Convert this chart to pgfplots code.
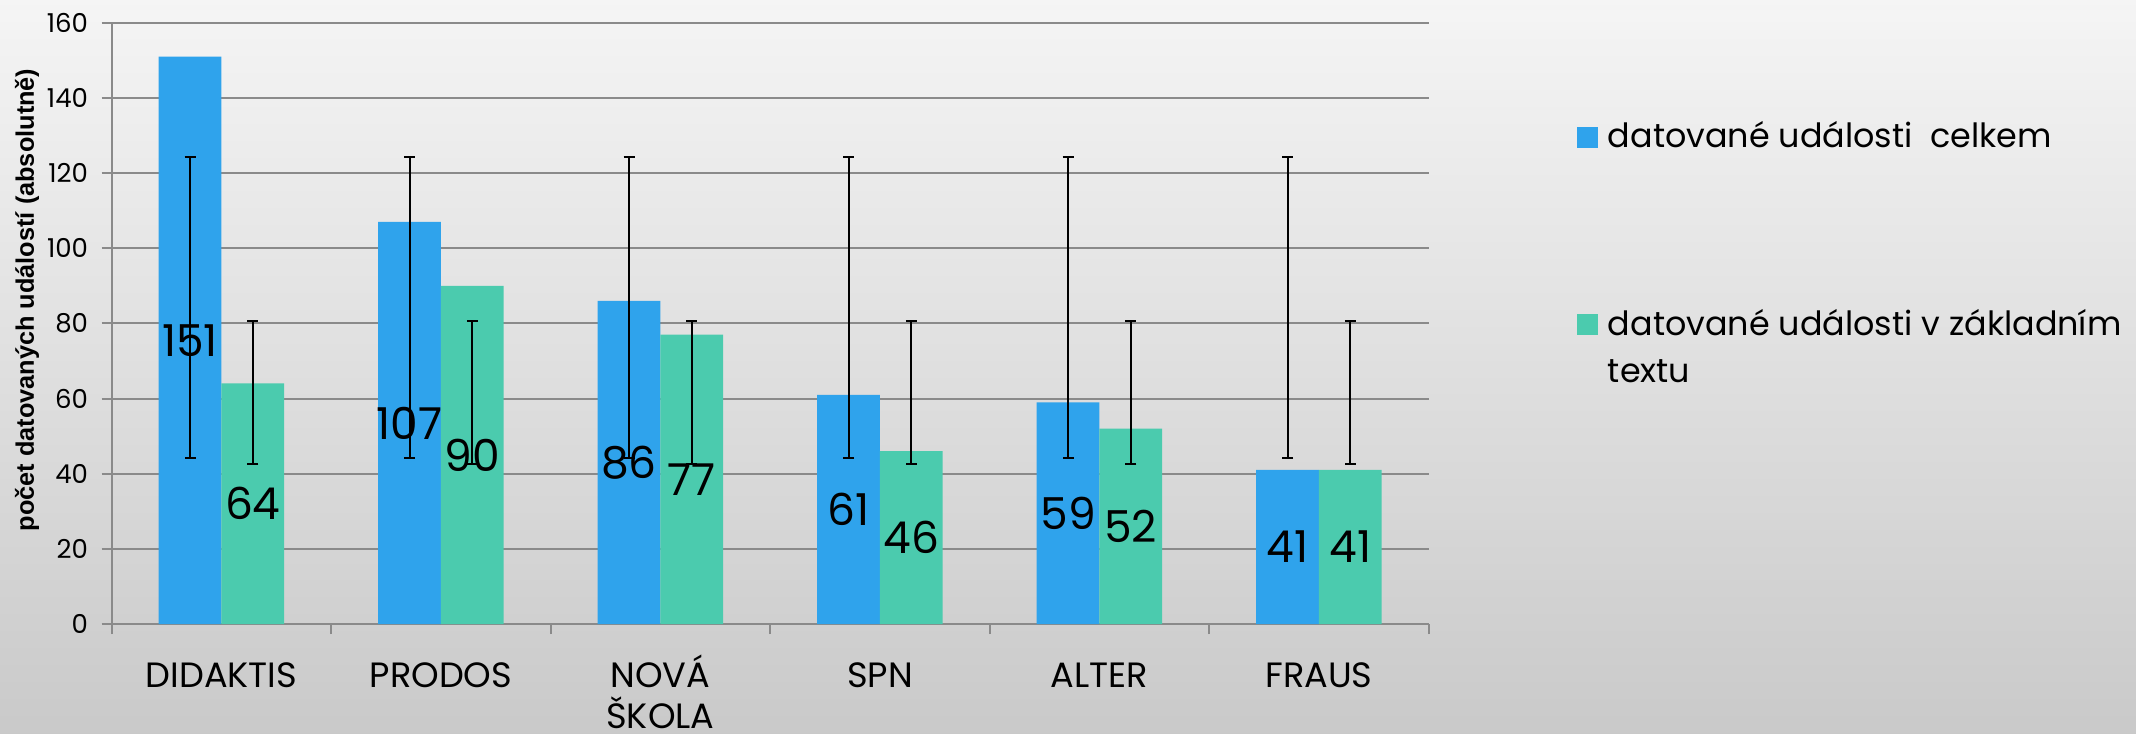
\documentclass[border=0pt]{standalone}
\usepackage{pgfplots}
\pgfplotsset{compat=1.18}
\usepackage{fontspec}
\setmainfont{Poppins}
\newfontfamily\labelfont{Liberation Sans}
\definecolor{cblue}{HTML}{2FA3EC}
\definecolor{cgreen}{HTML}{4BCBAE}
\definecolor{cgrid}{HTML}{8A8A8A}
\newcommand\vs{\vphantom{ÁŠ}}
\begin{document}
\begin{tikzpicture}
\useasboundingbox (0,0) rectangle (213.6mm,73.3mm);
\shade[top color=white!96!black, bottom color=white!79!black] (0,0) rectangle (213.6mm,73.3mm);
\begin{axis}[
  at={(11.17mm,10.9mm)}, anchor=south west,
  scale only axis, width=131.7mm, height=60.13mm,
  xmin=-0.5, xmax=5.5, ymin=0, ymax=160,
  axis lines*=left,
  axis line style={cgrid, line width=0.2mm},
  tick align=outside,
  major tick length=1mm,
  tick style={cgrid, line width=0.2mm},
  ytick={0,20,...,160},
  ymajorgrids,
  major grid style={cgrid, line width=0.2mm},
  xtick={-0.5,0.5,...,5.5},
  xticklabels={},
  extra x ticks={0,1,2,3,4,5},
  extra x tick labels={\vs DIDAKTIS, \vs PRODOS, {\vs NOVÁ\\ŠKOLA}, \vs SPN, \vs ALTER, \vs FRAUS},
  extra x tick style={major tick length=0pt, tick style={draw=none},
    tick label style={font=\fontsize{10}{11.6}\selectfont, align=center, anchor=north, inner sep=0pt, yshift=-3.0mm}},
  /pgf/number format/assume math mode=true,
  yticklabel style={font=\fontsize{7.4}{8}\selectfont, inner sep=0pt, xshift=-1.3mm},
  ylabel={počet datovaných událostí (absolutně)},
  every axis y label/.style={at={(axis description cs:-0.0643,0.539)}, rotate=90, anchor=center,
    font=\labelfont\bfseries\fontsize{7.2}{8}\selectfont},
  legend style={at={(1.104,0.848)}, anchor=north west, draw=none, fill=none,
    font=\fontsize{9.5}{13}\selectfont, row sep=15.6mm, column sep=1mm, nodes={inner sep=0pt}},
  legend cell align=left,
]
\addplot[ybar, bar width=0.286, bar shift=-0.143, fill=cblue, draw=none,
  legend image code/.code={\fill[cblue] (0mm,-1.05mm) rectangle (2.1mm,1.05mm);},
  visualization depends on=y \as \rawy,
  nodes near coords, nodes near coords align={center},
  every node near coord/.append style={anchor=center, text=black, font=\fontsize{12.5}{14}\selectfont,
    shift={(axis direction cs:-0.143,-\rawy/2)}}]
  coordinates {(0,151) (1,107) (2,86) (3,61) (4,59) (5,41)};
\addlegendentry{datované události\ \ celkem}
\addplot[ybar, bar width=0.286, bar shift=0.143, fill=cgreen, draw=none,
  legend image code/.code={\fill[cgreen] (0mm,-1.05mm) rectangle (2.1mm,1.05mm);},
  visualization depends on=y \as \rawy,
  nodes near coords, nodes near coords align={center},
  every node near coord/.append style={anchor=center, text=black, font=\fontsize{12.5}{14}\selectfont,
    shift={(axis direction cs:0.143,-\rawy/2)}}]
  coordinates {(0,64) (1,90) (2,77) (3,46) (4,52) (5,41)};
\addlegendentry{\smash{\rlap{\raisebox{-4.7mm}{textu}}}datované události v základním}
% error bars (mean +- standard deviation of each series)
\addplot[forget plot, draw=none, mark=none,
  error bars/.cd, y dir=both, y explicit, error mark=-,
  error bar style={draw=black, line width=0.2mm},
  error mark options={draw=black, line width=0.2mm, mark size=0.55mm, rotate=90}]
  coordinates {(-0.143,84.17) +- (0,40.07) (0.857,84.17) +- (0,40.07) (1.857,84.17) +- (0,40.07)
               (2.857,84.17) +- (0,40.07) (3.857,84.17) +- (0,40.07) (4.857,84.17) +- (0,40.07)};
\addplot[forget plot, draw=none, mark=none,
  error bars/.cd, y dir=both, y explicit, error mark=-,
  error bar style={draw=black, line width=0.2mm},
  error mark options={draw=black, line width=0.2mm, mark size=0.55mm, rotate=90}]
  coordinates {(0.143,61.67) +- (0,19.02) (1.143,61.67) +- (0,19.02) (2.143,61.67) +- (0,19.02)
               (3.143,61.67) +- (0,19.02) (4.143,61.67) +- (0,19.02) (5.143,61.67) +- (0,19.02)};
\end{axis}
\end{tikzpicture}
\end{document}
